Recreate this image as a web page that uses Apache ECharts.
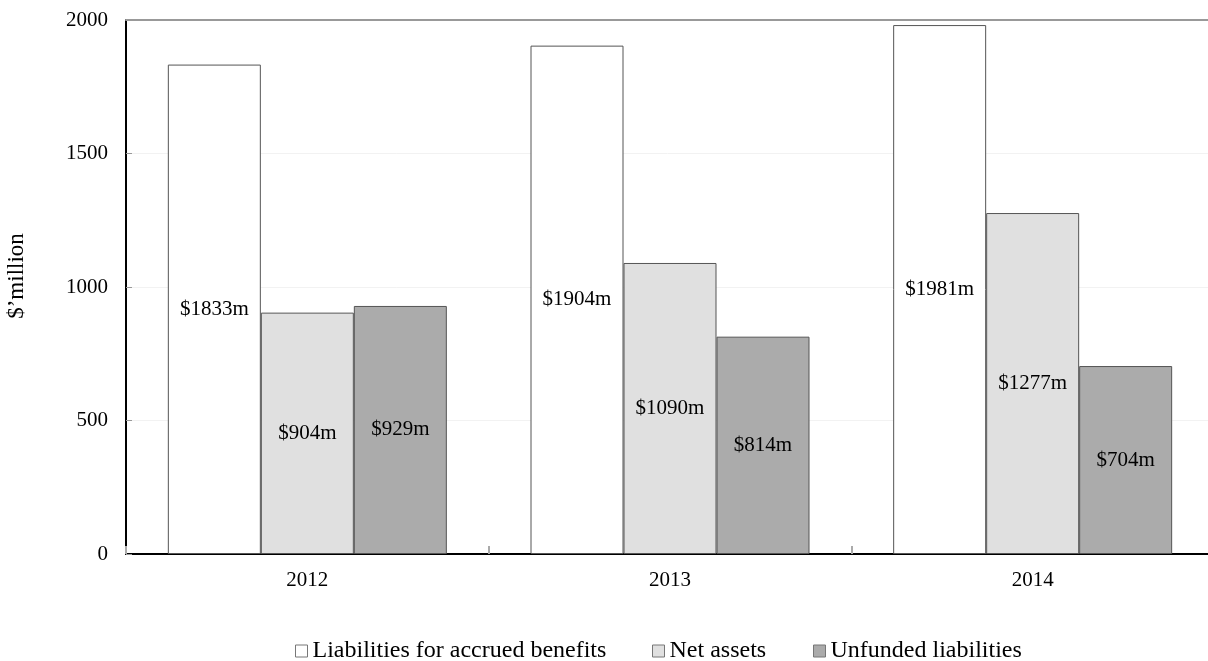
<!DOCTYPE html>
<html>
<head>
<meta charset="utf-8">
<script src="https://cdn.jsdelivr.net/npm/echarts@6/dist/echarts.min.js"></script>
<style>
  html, body { margin: 0; padding: 0; background: #fff; }
  #chart { width: 1208px; height: 661px; }
</style>
</head>
<body>
<div id="chart"></div>
<script>
// Pension scheme position by year ($ million)
const years = ['2012', '2013', '2014'];
const liabilities = [1833, 1904, 1981];
const netAssets = [904, 1090, 1277];
const unfunded = [929, 814, 704];
const yTicks = [0, 500, 1000, 1500, 2000];

const FONT = '"Liberation Serif", "Times New Roman", serif';
const seriesDefs = [
  { name: 'Liabilities for accrued benefits', data: liabilities, color: '#ffffff' },
  { name: 'Net assets', data: netAssets, color: '#e0e0e0' },
  { name: 'Unfunded liabilities', data: unfunded, color: '#ababab' }
];

const chart = echarts.init(document.getElementById('chart'), null, { renderer: 'canvas' });

// one legend block per series so each can sit at its own offset
const legendLeft = [295, 652, 813];

chart.setOption({
  animation: false,
  backgroundColor: '#ffffff',
  textStyle: { fontFamily: FONT, color: '#000' },
  // plot area runs slightly past the right edge of the canvas
  grid: { left: 126, right: -6, top: 20, bottom: 107, containLabel: false, outerBoundsMode: 'none' },
  legend: seriesDefs.map((s, i) => ({
    data: [s.name],
    left: legendLeft[i],
    top: 639,
    icon: 'rect',
    itemWidth: 12,
    itemHeight: 12,
    itemGap: 0,
    padding: 0,
    textStyle: { fontFamily: FONT, fontSize: 24, color: '#000' },
    itemStyle: { borderColor: '#777', borderWidth: 1 }
  })),
  xAxis: [{
    type: 'category',
    data: years,
    boundaryGap: true,
    axisLine: { show: true, lineStyle: { color: '#000', width: 2 } },
    axisTick: { show: true, inside: true, length: 8, lineStyle: { color: '#aaa', width: 2 } },
    axisLabel: { fontFamily: FONT, fontSize: 21, color: '#000', margin: 16 },
    splitLine: { show: false }
  }, {
    type: 'category',
    data: years,
    position: 'top',
    axisLine: { show: true, lineStyle: { color: '#999', width: 2 } },
    axisTick: { show: false },
    axisLabel: { show: false }
  }],
  yAxis: {
    type: 'value',
    min: yTicks[0],
    max: yTicks[yTicks.length - 1],
    interval: 500,
    name: '$’million',
    nameLocation: 'middle',
    nameGap: 98,
    nameRotate: 90,
    nameTextStyle: { fontFamily: FONT, fontSize: 23, color: '#000', padding: [0, 0, 0, 22] },
    axisLine: { show: true, lineStyle: { color: '#000', width: 2 } },
    axisTick: { show: true, inside: true, length: 6, lineStyle: { color: '#999', width: 1 } },
    axisLabel: { fontFamily: FONT, fontSize: 21, color: '#000', margin: 18, formatter: v => String(v) },
    splitLine: { show: true, lineStyle: { color: '#f2f2f2', width: 1 } }
  },
  series: seriesDefs.map(s => ({
    name: s.name,
    type: 'bar',
    data: s.data,
    barWidth: 93,
    barGap: '0%',
    itemStyle: { color: s.color, borderColor: '#555', borderWidth: 1 },
    label: {
      show: true,
      position: 'inside',
      formatter: p => '$' + p.value + 'm',
      fontFamily: FONT,
      fontSize: 21,
      color: '#000'
    }
  }))
});
</script>
</body>
</html>
